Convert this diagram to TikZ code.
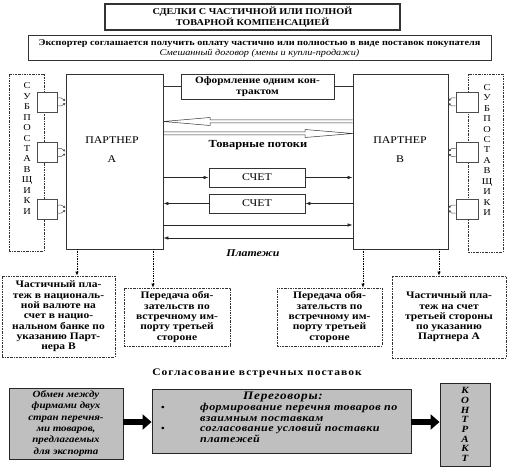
\documentclass[tikz,border=0pt]{standalone}
\usepackage{fontspec}
\setmainfont{Liberation Serif}[FakeStretch=1.15]
\usetikzlibrary{arrows.meta,calc}
\newcommand\myfs[2]{\fontsize{#1}{#2}\selectfont}
\begin{document}
\begin{tikzpicture}[x=1pt,y=-1pt,
  box/.style={draw=black!80, line width=0.8pt, inner sep=0pt, align=center},
  ddbox/.style={draw=black!80, line width=0.7pt, dash pattern=on 2pt off 1pt on 0.6pt off 1pt, inner sep=0pt},
  sbox/.style={draw=black!70, fill=white, line width=0.7pt, inner sep=0pt},
  gbox/.style={draw=black!85, fill=black!25, line width=0.9pt, inner sep=0pt, align=center},
  arr/.style={-{Latex[length=5pt,width=3.5pt]}, line width=0.6pt, draw=black!85},
  dotarr/.style={densely dotted, -{Latex[length=4pt,width=3.5pt]}, line width=0.7pt},
  big/.style={line width=6.5pt, -{Triangle[length=9pt,width=15pt]}},
  subarr/.style={-{Latex[length=2.5pt,width=2.5pt]}, line width=0.5pt, draw=black!70},
  txt/.style={inner sep=0pt, align=center}
]
\useasboundingbox (0,0) rectangle (517,476);
% top boxes
\node[box, line width=1.2pt, minimum width=295pt, minimum height=26pt, font=\myfs{8.9}{10.5}\bfseries] (title) at (252.5,17)
  {СДЕЛКИ С ЧАСТИЧНОЙ ИЛИ ПОЛНОЙ\\ТОВАРНОЙ КОМПЕНСАЦИЕЙ};
\node[box, line width=1pt, minimum width=463pt, minimum height=25pt, font=\myfs{8.9}{10.5}\bfseries] (exp) at (259.5,48.5)
  {Экспортер соглашается получить оплату частично или полностью в виде поставок покупателя\\
   {\mdseries\itshape Смешанный договор (мены и купли-продажи)}};
% partners
\node[box, minimum width=97pt, minimum height=175pt] (A) at (114.5,161.5) {};
\node[box, minimum width=95pt, minimum height=175pt] (B) at (400.5,161.5) {};
\node[txt, font=\myfs{10.3}{19}] (At) at (112,149.5) {ПАРТНЕР\\А};
\node[txt, font=\myfs{10.3}{19}] (Bt) at (400,149.5) {ПАРТНЕР\\В};
% sub-suppliers
\node[ddbox, minimum width=35pt, minimum height=177pt] (dL) at (26.5,162.5) {};
\node[ddbox, minimum width=35pt, minimum height=178pt] (dR) at (485.5,163) {};
\node[txt, font=\myfs{9}{10.45}] (subL) at (27,148.5) {С\\У\\Б\\П\\О\\С\\Т\\А\\В\\Щ\\И\\К\\И};
\node[txt, font=\myfs{9}{10.45}] (subR) at (487,150) {С\\У\\Б\\П\\О\\С\\Т\\А\\В\\Щ\\И\\К\\И};
\foreach \i/\y in {1/102,2/152.5,3/209}{
  \node[sbox, minimum width=20pt, minimum height=20pt] (sl\i) at (47,\y) {};
  \node[sbox, minimum width=22pt, minimum height=20pt] (sr\i) at (467,\y) {};
  \draw[subarr] ($(sl\i.east)+(0,-4)$) -- ++(4,0) -- ($(A.west |- sl\i.east)+(0,-1)$);
  \draw[subarr] ($(sl\i.east)+(0,4)$) -- ++(4,0) -- ($(A.west |- sl\i.east)+(0,1)$);
  \draw[subarr] ($(sr\i.west)+(0,-4)$) -- ++(-4,0) -- ($(B.east |- sr\i.west)+(0,-1)$);
  \draw[subarr] ($(sr\i.west)+(0,4)$) -- ++(-4,0) -- ($(B.east |- sr\i.west)+(0,1)$);
}
% contract
\node[box, minimum width=153pt, minimum height=25pt, font=\myfs{9.8}{10.5}\bfseries] (one) at (257.5,86.5)
  {Оформление одним кон-\\трактом};
\draw[line width=0.6pt, draw=black!80] (A.east |- one.west) -- (one.west);
\draw[line width=0.6pt, draw=black!80] (one.east) -- (B.west |- one.east);
% goods flows
\draw[line width=0.5pt, draw=black!80, line join=miter]
  (B.west |- 0,120) -- (210,120) -- (210,117.5) -- (A.east |- 0,121.5) -- (210,125.5) -- (210,123) -- (B.west |- 0,123);
\draw[line width=0.5pt, draw=black!80, line join=miter]
  (A.east |- 0,132) -- (305,132) -- (305,129.5) -- (B.west |- 0,133.5) -- (305,137.5) -- (305,135) -- (A.east |- 0,135);
\node[txt, font=\myfs{10.8}{11}\bfseries] (goods) at (258,145) {Товарные потоки};
% invoices
\node[box, minimum width=96pt, minimum height=19pt, font=\myfs{10.3}{11}] (s1) at (257,177.5) {СЧЕТ};
\node[box, minimum width=96pt, minimum height=19pt, font=\myfs{10.3}{11}] (s2) at (257,203.5) {СЧЕТ};
\draw[arr] (A.east |- s1.west) -- (s1.west);
\draw[arr] (s1.east) -- (B.west |- s1.east);
\draw[arr] (s2.west) -- (A.east |- s2.west);
\draw[arr] (B.west |- s2.east) -- (s2.east);
\draw[arr] (A.east |- 0,225) -- (B.west |- 0,225);
\draw[arr] (B.west |- 0,238) -- (A.east |- 0,238);
\node[txt, font=\myfs{10.3}{11}\bfseries\itshape] (pay) at (253,253) {Платежи};
% lower boxes
\tikzset{lowtxt/.style={font=\myfs{10}{10.3}\bfseries, align=center}}
\node[ddbox, lowtxt, minimum width=113pt, minimum height=81pt] (b1) at (58.5,316.5)
  {Частичный пла-\\теж в националь-\\ной валюте на\\счет в нацио-\\нальном банке по\\указанию Парт-\\нера В};
\node[ddbox, lowtxt, minimum width=106pt, minimum height=58pt] (b2) at (177,317)
  {Передача обя-\\зательств по\\встречному им-\\порту третьей\\стороне};
\node[ddbox, lowtxt, minimum width=105pt, minimum height=58pt] (b3) at (329.5,317)
  {Передача обя-\\зательств по\\встречному им-\\порту третьей\\стороне};
\node[ddbox, lowtxt, minimum width=114pt, minimum height=82pt] (b4) at (449,317)
  {Частичный пла-\\теж на счет\\третьей стороны\\по указанию\\Партнера А};
\coordinate (a1) at (77,249);
\coordinate (a2) at (153,249);
\coordinate (a3) at (363,249);
\coordinate (a4) at (439,249);
\draw[dotarr] (a1) -- (a1 |- b1.north);
\draw[dotarr] (a2) -- (a2 |- b2.north);
\draw[dotarr] (a3) -- (a3 |- b3.north);
\draw[dotarr] (a4) -- (a4 |- b4.north);
% bottom
\node[txt, font=\myfs{10}{10}\bfseries\addfontfeatures{LetterSpace=10}] (agree) at (257,373) {Согласование встречных поставок};
\node[gbox, minimum width=114pt, minimum height=71pt, font=\myfs{9.5}{11.3}\bfseries\itshape] (g1) at (66,423.5)
  {Обмен между\\фирмами двух\\стран перечня-\\ми товаров,\\предлагаемых\\для экспорта};
\node[gbox, minimum width=259pt, minimum height=64pt] (g2) at (281.5,421) {};
\node[txt, font=\myfs{11.5}{11}\bfseries\itshape\addfontfeatures{LetterSpace=6}] (neg) at (283,397) {Переговоры:};
\node[txt, font=\myfs{10.5}{10.8}\bfseries\itshape\addfontfeatures{LetterSpace=4}, anchor=north west, align=left] (it1) at (200,403)
  {формирование перечня товаров по\\взаимным поставкам};
\node[txt, font=\myfs{10.5}{10.8}\bfseries\itshape\addfontfeatures{LetterSpace=4}, anchor=north west, align=left] (it2) at (200,424)
  {согласование условий поставки\\платежей};
\node[txt, font=\myfs{9}{10}\bfseries] (bl1) at (163,408.5) {•};
\node[txt, font=\myfs{9}{10}\bfseries] (bl2) at (163,429.5) {•};
\node[gbox, minimum width=50pt, minimum height=83pt, font=\myfs{9.5}{9.7}\bfseries\itshape] (k) at (465,424.5)
  {К\\О\\Н\\Т\\Р\\А\\К\\Т};
\draw[big] (g1.east |- 0,422) -- (g2.west |- 0,422);
\draw[big] (g2.east |- 0,422) -- (k.west |- 0,422);
\end{tikzpicture}
\end{document}
